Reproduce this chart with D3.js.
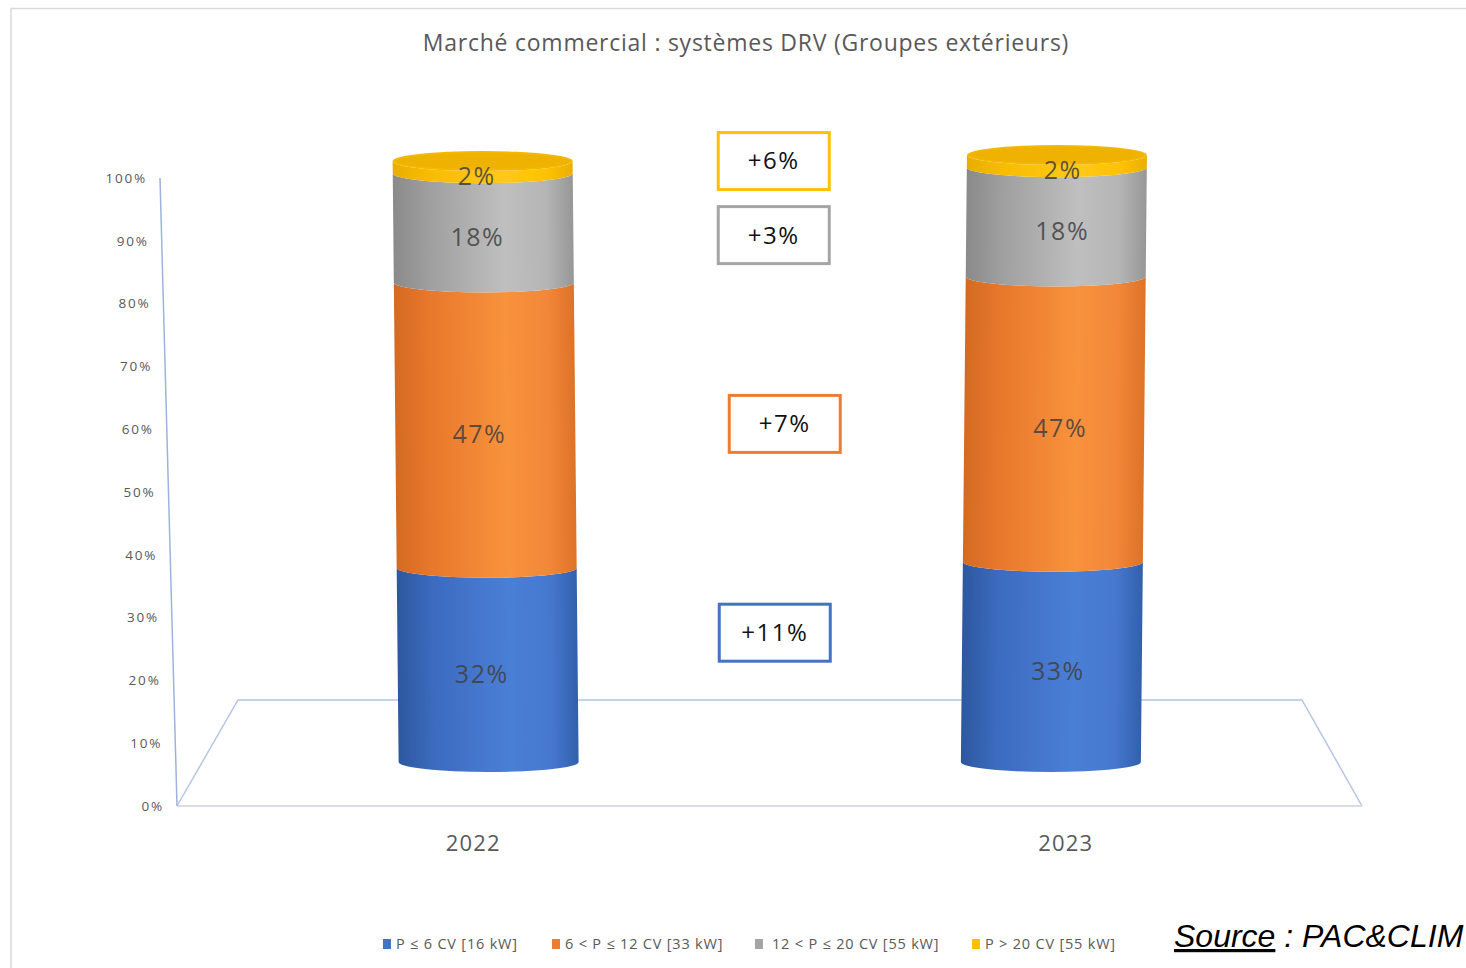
<!DOCTYPE html>
<html>
<head>
<meta charset="utf-8">
<script src="https://cdn.jsdelivr.net/npm/d3@7"></script>
<style>
  body { margin: 0; background: #fff; }
  svg { display: block; }
  text { font-family: "Open Sans", sans-serif; }
</style>
</head>
<body>
<div id="chart"></div>
<script>
// data
var categories = ["2022", "2023"];
var seriesKeys = ["p6", "p12", "p20", "pmax"];
var seriesNames = ["P ≤ 6 CV [16 kW]", "6 < P ≤ 12 CV [33 kW]", "12 < P ≤ 20 CV [55 kW]", "P > 20 CV [55 kW]"];
var values2022 = [32, 47, 18, 2];
var values2023 = [33, 47, 18, 2];
var growthLabels = ["+11%", "+7%", "+3%", "+6%"];
var tickValues = [0, 0.1, 0.2, 0.3, 0.4, 0.5, 0.6, 0.7, 0.8, 0.9, 1];

var colors = ["#4472c4", "#ed7d31", "#a5a5a5", "#ffc000"];
var shades = [
  ["#2d589f", "#3c6bc0", "#4a7fd6", "#4678cf", "#3260ac"],
  ["#d46a22", "#e8782c", "#f8923c", "#f2873a", "#de7327"],
  ["#8a8a8a", "#9f9f9f", "#bfbfbf", "#b5b5b5", "#979797"],
  ["#e9ad00", "#f8bd00", "#ffc81a", "#ffc200", "#eaaf00"]
];

var W = 1466, H = 968;

var svg = d3.select("#chart").append("svg")
  .attr("width", W)
  .attr("height", H);

// frame
svg.append("path")
  .attr("d", "M11,968 L11,8.5 L1466,8.5")
  .attr("fill", "none")
  .attr("stroke", "#d9d9d9")
  .attr("stroke-width", 1.5);

// title
svg.append("text")
  .attr("x", 746)
  .attr("y", 51)
  .attr("text-anchor", "middle")
  .attr("font-size", 23)
  .attr("letter-spacing", 0.75)
  .attr("fill", "#595959")
  .text("Marché commercial : systèmes DRV (Groupes extérieurs)");

// scales
var floorFront = 806, floorBack = 700;
var xFront = d3.scaleBand().domain(categories).range([177, 1362]);
var xMid = d3.scaleBand().domain(categories).range([207.5, 1332]);

var yAxisScale = d3.scaleLinear().domain([0, 1]).range([806, 178]);
var axisX = d3.scaleLinear().domain([0, 1]).range([177, 160]);

var yCyl = d3.scaleLinear().domain([0, 100]).range([762, 155]);

// floor
svg.append("path")
  .attr("d", "M177," + floorFront + " L238," + floorBack + " L1302," + floorBack + " L1362," + floorFront)
  .attr("fill", "none")
  .attr("stroke", "#b4c5e6")
  .attr("stroke-width", 1.5);
svg.append("line")
  .attr("x1", 177).attr("x2", 1362)
  .attr("y1", floorFront).attr("y2", floorFront)
  .attr("stroke", "#d6dbe6")
  .attr("stroke-width", 2);

// y axis (slanted)
svg.append("line")
  .attr("x1", axisX(0)).attr("y1", yAxisScale(0))
  .attr("x2", axisX(1)).attr("y2", yAxisScale(1))
  .attr("stroke", "#9db3de")
  .attr("stroke-width", 1.5);

svg.append("g").selectAll("text")
  .data(tickValues)
  .enter().append("text")
  .attr("x", function(d) { return axisX(d) - 13; })
  .attr("y", function(d) { return yAxisScale(d); })
  .attr("dy", "0.35em")
  .attr("text-anchor", "end")
  .attr("font-size", 13.5)
  .attr("letter-spacing", 1.8)
  .attr("fill", "#595959")
  .text(d3.format(".0%"));

// category labels
svg.append("g").selectAll("text")
  .data(categories)
  .enter().append("text")
  .attr("x", function(d) { return xFront(d) + xFront.bandwidth() / 2; })
  .attr("y", 851)
  .attr("text-anchor", "middle")
  .attr("font-size", 22)
  .attr("letter-spacing", 1.2)
  .attr("fill", "#595959")
  .text(function(d) { return d; });

// gradients
var defs = svg.append("defs");
shades.forEach(function(s, i) {
  var g = defs.append("linearGradient")
    .attr("id", "grad" + i)
    .attr("x1", "0%").attr("x2", "100%")
    .attr("y1", "0%").attr("y2", "0%");
  [0, 0.2, 0.62, 0.85, 1].forEach(function(o, j) {
    g.append("stop").attr("offset", o).attr("stop-color", s[j]);
  });
});

// stacked cylinders
var table = categories.map(function(c, i) {
  var vals = i === 0 ? values2022 : values2023;
  var row = { year: c };
  seriesKeys.forEach(function(k, j) { row[k] = vals[j]; });
  return row;
});
var stacked = d3.stack().keys(seriesKeys)(table);

var rx = 90, ry = 10;
var lean = [0.01, -0.01];
var labelShift = [-6, 6];
var base = yCyl(0);

function segPath(y0, y1) {
  // local coords: x centred, y relative to base
  return "M" + (-rx) + "," + y1 +
    " L" + (-rx) + "," + y0 +
    " A" + rx + " " + ry + " 0 0 0 " + rx + "," + y0 +
    " L" + rx + "," + y1 +
    " A" + rx + " " + ry + " 0 0 1 " + (-rx) + "," + y1 + " Z";
}

categories.forEach(function(c, ci) {
  var cx = xMid(c) + xMid.bandwidth() / 2;
  var g = svg.append("g")
    .attr("transform", "translate(" + cx + "," + base + ") skewX(" + (Math.atan(lean[ci]) * 180 / Math.PI) + ")");

  stacked.forEach(function(layer, si) {
    var d = layer[ci];
    g.append("path")
      .attr("d", segPath(yCyl(d[0]) - base, yCyl(d[1]) - base))
      .attr("fill", "url(#grad" + si + ")");
  });

  var topVal = stacked[stacked.length - 1][ci][1];
  g.append("ellipse")
    .attr("cx", 0)
    .attr("cy", yCyl(topVal) - base)
    .attr("rx", rx)
    .attr("ry", ry)
    .attr("fill", "#f3b800");
  g.append("ellipse")
    .attr("cx", 0)
    .attr("cy", yCyl(topVal) - base)
    .attr("rx", rx - 3)
    .attr("ry", ry - 2)
    .attr("fill", "#f0b200");

  stacked.forEach(function(layer, si) {
    var d = layer[ci];
    var mid = (d[0] + d[1]) / 2;
    var ly = yCyl(mid) + 9;
    svg.append("text")
      .attr("x", cx - lean[ci] * (base - ly) + labelShift[ci])
      .attr("y", ly)
      .attr("dy", "0.35em")
      .attr("text-anchor", "middle")
      .attr("font-size", 25)
      .attr("letter-spacing", 1.5)
      .attr("fill", "#404040")
      .attr("fill-opacity", 0.85)
      .text(d.data[layer.key] + "%");
  });
});

// growth boxes (placed between the cylinders)
var boxLevel = [21.3, 55.7, 86.8, 99];
var boxShift = [1, 11, 0, 0];
var boxW = 111, boxH = 57;
var midX = (xMid("2022") + xMid("2023") + xMid.bandwidth()) / 2;

var boxes = svg.append("g").selectAll("g")
  .data(growthLabels)
  .enter().append("g")
  .attr("transform", function(d, i) {
    return "translate(" + (midX + 4 + boxShift[i]) + "," + yCyl(boxLevel[i]) + ")";
  });
boxes.append("rect")
  .attr("x", -boxW / 2)
  .attr("y", -boxH / 2)
  .attr("width", boxW)
  .attr("height", boxH)
  .attr("fill", "#fff")
  .attr("stroke", function(d, i) { return colors[i]; })
  .attr("stroke-width", 3);
boxes.append("text")
  .attr("text-anchor", "middle")
  .attr("dy", "0.35em")
  .attr("font-size", 24)
  .attr("letter-spacing", 1.5)
  .attr("fill", "#111")
  .text(function(d) { return d; });

// legend
var legendX = [383, 552, 755, 972];
var legend = svg.append("g").selectAll("g")
  .data(seriesNames)
  .enter().append("g")
  .attr("transform", function(d, i) { return "translate(" + legendX[i] + ",944)"; });
legend.append("rect")
  .attr("x", 0).attr("y", -5)
  .attr("width", 8).attr("height", 10)
  .attr("fill", function(d, i) { return colors[i]; });
legend.append("text")
  .attr("x", function(d, i) { return i === 2 ? 17 : 13; })
  .attr("dy", "0.35em")
  .attr("font-size", 14.5)
  .attr("letter-spacing", 0.8)
  .attr("fill", "#595959")
  .text(function(d) { return d; });

// source
var src = svg.append("text")
  .attr("x", 1174)
  .attr("y", 947)
  .style("font-family", "'Liberation Sans', Arial, sans-serif")
  .style("font-style", "italic")
  .attr("font-size", 32)
  .attr("fill", "#000");
src.append("tspan").attr("text-decoration", "underline").text("Source");
src.append("tspan").text(" : PAC&CLIM");
</script>
</body>
</html>
